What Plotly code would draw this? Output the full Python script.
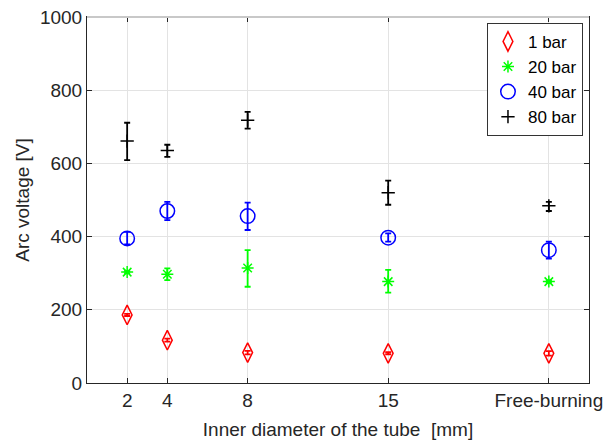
import plotly.graph_objects as go

x_pos = [2, 4, 8, 15, 23]
tick_labels = ["2", "4", "8", "15", "Free-burning"]

v1 = [186, 117, 83, 81, 81]
e1_hi = [3, 4, 5, 3, 6]
e1_lo = [3, 4, 5, 3, 6]

v20 = [303, 297, 314, 277, 277]
e20_hi = [3, 16, 49, 32, 3]
e20_lo = [3, 16, 51, 30, 3]

v40 = [395, 470, 456, 397, 363]
e40_hi = [18, 25, 37, 12, 23]
e40_lo = [16, 25, 38, 11, 23]

v80 = [661, 635, 718, 520, 484]
e80_hi = [50, 16, 23, 33, 11]
e80_lo = [52, 17, 23, 33, 14]

names = ["1 bar", "20 bar", "40 bar", "80 bar"]
colors = ["#ff0000", "#00ff00", "#0000ff", "#000000"]
symbols = ["diamond-tall-open", "asterisk-open", "circle-open", "cross-thin-open"]
sizes = [14, 10, 14.5, 9.5]
vals = [v1, v20, v40, v80]
ehi = [e1_hi, e20_hi, e40_hi, e80_hi]
elo = [e1_lo, e20_lo, e40_lo, e80_lo]

fig = go.Figure()
for n, c, s, sz, v, eh, el in zip(names, colors, symbols, sizes, vals, ehi, elo):
    fig.add_trace(go.Scatter(
        x=x_pos, y=v, name=n, mode="markers",
        marker=dict(symbol=s, size=sz, color=c, line=dict(color=c, width=1.5)),
        error_y=dict(type="data", symmetric=False, array=eh, arrayminus=el,
                     color=c, thickness=1.8, width=3),
    ))

font = "Liberation Sans, Arial, sans-serif"
# page body has an 8px default margin, so margins are reduced accordingly
fig.update_layout(
    width=615, height=443,
    margin=dict(l=79, r=34, t=9, b=68),
    plot_bgcolor="white", paper_bgcolor="white",
    font=dict(family=font, size=19, color="#262626"),
    legend=dict(x=0.988, y=0.984, xanchor="right", yanchor="top",
                bordercolor="#333333", borderwidth=1, bgcolor="white",
                font=dict(size=17, color="#000000"),
                itemwidth=30, tracegroupgap=0),
    showlegend=True,
    shapes=[dict(type="line", xref="paper", yref="paper", x0=0, x1=1, y0=1, y1=1,
                 line=dict(color="#c8c8c8", width=2), layer="above")],
)
fig.update_xaxes(
    range=[0, 25], tickvals=x_pos, ticktext=tick_labels,
    showgrid=True, gridcolor="#e3e3e3", gridwidth=1,
    showline=True, linecolor="#262626", linewidth=1, mirror="ticks",
    ticks="inside", ticklen=5, tickcolor="#262626", zeroline=False,
    title=dict(text="Inner diameter of the tube  [mm]", standoff=12, font=dict(size=19)),
    tickfont=dict(size=19), automargin=False, ticklabeloverflow="allow",
)
fig.update_yaxes(
    range=[0, 1000], tickvals=[0, 200, 400, 600, 800, 1000],
    showgrid=True, gridcolor="#e3e3e3", gridwidth=1,
    showline=True, linecolor="#262626", linewidth=1, mirror="ticks",
    ticks="inside", ticklen=5, tickcolor="#262626", zeroline=False,
    title=dict(text="Arc voltage [V]", standoff=5, font=dict(size=19)),
    tickfont=dict(size=19), automargin=False, ticklabeloverflow="allow",
)
fig.write_html("out.html")
